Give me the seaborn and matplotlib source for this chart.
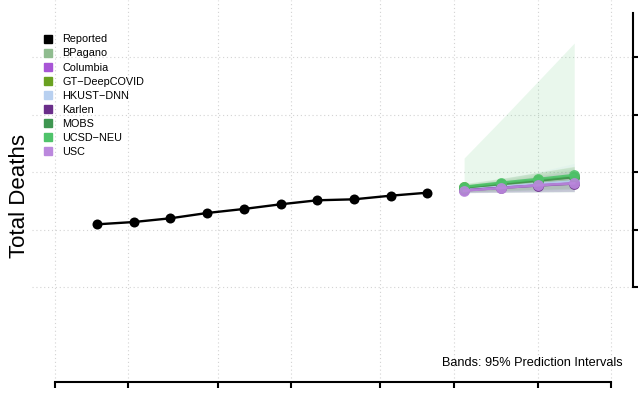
import matplotlib
matplotlib.use("Agg")
import matplotlib.pyplot as plt
import matplotlib.dates as mdates
from matplotlib.lines import Line2D
import pandas as pd
import seaborn as sns

# reported weekly totals
reported_dates = ["2020-07-09", "2020-07-16", "2020-07-23", "2020-07-30", "2020-08-06",
                  "2020-08-13", "2020-08-20", "2020-08-27", "2020-09-03", "2020-09-10"]
reported_deaths = [1090, 1130, 1195, 1287, 1357, 1438, 1508, 1525, 1588, 1640]

# forecasts (point, lower, upper of the 95% interval)
forecast_dates = ["2020-09-17", "2020-09-24", "2020-10-01", "2020-10-08"]
models = ["BPagano", "Columbia", "GT-DeepCOVID", "HKUST-DNN", "Karlen", "MOBS", "UCSD-NEU", "USC"]
model_colors = ["#8fbc8f", "#a855d6", "#6aa121", "#b8d0f0", "#6a2e8a", "#3e9651", "#4fc36a", "#bb88dd"]
forecast_mid = {
    "BPagano": [1705, 1755, 1805, 1850],
    "Columbia": [1690, 1735, 1780, 1820],
    "GT-DeepCOVID": [1735, 1795, 1855, 1915],
    "HKUST-DNN": [1695, 1745, 1795, 1840],
    "Karlen": [1680, 1725, 1765, 1800],
    "MOBS": [1730, 1790, 1850, 1910],
    "UCSD-NEU": [1744, 1814, 1878, 1948],
    "USC": [1675, 1722, 1769, 1803],
}
forecast_lo = {
    "BPagano": [1650, 1655, 1660, 1665],
    "Columbia": [1645, 1650, 1655, 1660],
    "GT-DeepCOVID": [1660, 1680, 1700, 1720],
    "HKUST-DNN": [1640, 1645, 1650, 1655],
    "Karlen": [1640, 1650, 1655, 1660],
    "MOBS": [1655, 1670, 1685, 1700],
    "UCSD-NEU": [1640, 1645, 1650, 1655],
    "USC": [1640, 1650, 1660, 1665],
}
forecast_hi = {
    "BPagano": [1760, 1860, 1960, 2060],
    "Columbia": [1740, 1830, 1930, 2030],
    "GT-DeepCOVID": [1790, 1880, 1990, 2100],
    "HKUST-DNN": [1770, 1880, 2000, 2150],
    "Karlen": [1720, 1800, 1880, 1950],
    "MOBS": [1800, 1890, 1990, 2090],
    "UCSD-NEU": [2243, 2900, 3570, 4243],
    "USC": [1710, 1790, 1860, 1930],
}
xtick_dates = ["2020-07-01", "2020-07-15", "2020-08-01", "2020-08-15",
               "2020-09-01", "2020-09-15", "2020-10-01", "2020-10-15"]
ytick_values = [0, 1000, 2000, 3000, 4000]

# pixel <-> data helpers (figure is drawn on a full-size axes)
PX_PER_DAY = 5.245
PX_PER_UNIT = 57.5 / 1000
origin = pd.Timestamp(xtick_dates[0])


def xpx(p):
    return mdates.date2num(origin + pd.Timedelta(days=(p - 55) / PX_PER_DAY))


def ypx(p):
    return (287 - p) / PX_PER_UNIT


plt.rcParams["font.family"] = ["Liberation Sans", "DejaVu Sans"]
fig = plt.figure(figsize=(6.38, 3.96), dpi=100)
ax = fig.add_axes([0, 0, 1, 1])
ax.set_facecolor("white")

xt = pd.to_datetime(xtick_dates)
grid_kw = dict(colors="#d3d3d3", linestyles=(0, (1, 2.5)), linewidth=0.8, zorder=0)
ax.vlines(xt, ypx(378), ypx(0), **grid_kw)
ax.hlines(ytick_values, xpx(32), xpx(632), **grid_kw)

rep = pd.DataFrame({"date": pd.to_datetime(reported_dates), "deaths": reported_deaths})
sns.lineplot(data=rep, x="date", y="deaths", color="black", lw=1.7, marker="o",
             markersize=7.2, markeredgewidth=0, ax=ax, zorder=5)

fd = pd.to_datetime(forecast_dates)
for m, c in zip(models, model_colors):
    alpha = 0.12 if m == "UCSD-NEU" else 0.1
    ax.fill_between(fd, forecast_lo[m], forecast_hi[m], color=c, alpha=alpha, lw=0, zorder=1)
for m, c in zip(models, model_colors):
    df = pd.DataFrame({"date": fd, "deaths": forecast_mid[m]})
    sns.lineplot(data=df, x="date", y="deaths", color=c, lw=1.8, marker="o", markersize=7.8,
                 markeredgewidth=0, alpha=0.9, ax=ax, zorder=3)

ax.set_xlim(xpx(0), xpx(638))
ax.set_ylim(ypx(396), ypx(0))
ax.set_xlabel("")
ax.set_ylabel("")

for s in ["top", "left"]:
    ax.spines[s].set_visible(False)
ax.spines["bottom"].set_position(("data", ypx(382)))
ax.spines["bottom"].set_bounds(mdates.date2num(xt[0]), mdates.date2num(xt[-1]))
ax.spines["right"].set_position(("data", xpx(633)))
ax.spines["right"].set_bounds(ytick_values[0], ypx(13))
for s in ["bottom", "right"]:
    ax.spines[s].set_linewidth(1.5)
ax.set_xticks(xt)
ax.set_yticks(ytick_values)
ax.yaxis.tick_right()
ax.tick_params(axis="both", direction="out", length=4, width=1.5, labelbottom=False,
               labelright=False, labelleft=False)

handles = [Line2D([], [], ls="", marker="s", markersize=5.2, color="black")]
handles += [Line2D([], [], ls="", marker="s", markersize=5.2, color=c) for c in model_colors]
ax.legend(handles, ["Reported"] + [m.replace("-", "\u2212") for m in models],
          loc="upper left", bbox_to_anchor=(43.6 / 638, 1 - 34.4 / 396), bbox_transform=fig.transFigure,
          frameon=False, fontsize=7.8, handlelength=0.9, handletextpad=0.8, labelspacing=0.375,
          borderpad=0, borderaxespad=0)

fig.text(20 / 638, 1 - 196 / 396, "Total Deaths", rotation=90, ha="center", va="center", fontsize=16)
fig.text(623 / 638, 1 - 363 / 396, "Bands: 95% Prediction Intervals", ha="right", va="center",
         fontsize=9.2)

fig.savefig("out.png", dpi=100)
